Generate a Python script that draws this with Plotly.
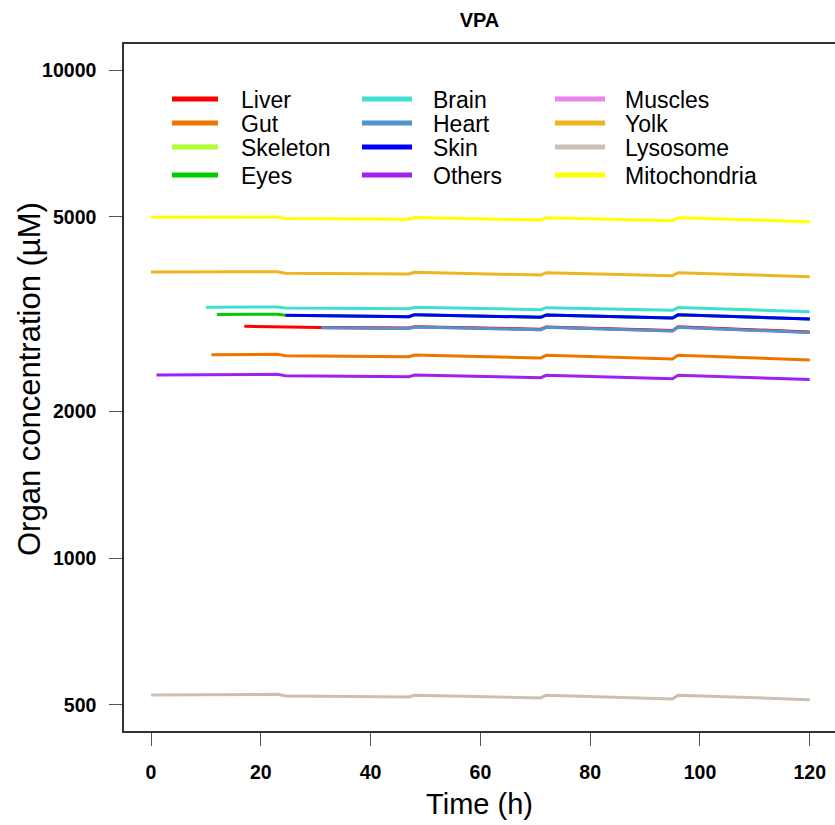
import plotly.graph_objects as go

# ---------------- data ----------------
hours = [0, 1, 10, 11, 12, 17, 23, 24.5, 31, 47, 48, 71, 72, 95, 96, 120]

mitochondria = [4991, 4991, 4993, 4994, 4994, 4996, 4997, 4965, 4960, 4944, 4986, 4928, 4981, 4911, 4981, 4888]
yolk = [3855, 3855, 3857, 3857, 3857, 3858, 3859, 3832, 3829, 3820, 3850, 3800, 3843, 3789, 3843, 3771]
lysosome = [524, 524, 524.5, 524.6, 524.7, 525, 525.5, 521.6, 521, 519.2, 523.3, 516.7, 523.3, 514.3, 523.3, 512.6]
others = [None, 2371, 2374, 2375, 2375, 2377, 2379, 2363, 2360, 2352, 2371, 2341, 2368, 2330, 2368, 2323]
brain = [None, None, 3266, 3266, 3267, 3267, 3268, 3253, 3250, 3242, 3264, 3227, 3258, 3218, 3260, 3198]
gut = [None, None, None, 2608, 2609, 2611, 2614, 2598, 2594, 2586, 2605, 2570, 2602, 2558, 2602, 2546]
eyes = [None, None, None, None, 3156, 3157, 3158, 3143, 3139, 3123, 3152, 3114, 3148, 3104, 3150, 3090]
skin = [None, None, None, None, None, None, None, 3143, 3139, 3123, 3152, 3114, 3148, 3104, 3150, 3090]
skeleton = [None, None, None, None, None, None, None, None, 3139, 3123, 3152, 3114, 3148, 3104, 3150, 3090]
liver = [None, None, None, None, None, 2985, 2979, 2971, 2968, 2961, 2979, 2943, 2975, 2924, 2977, 2906]
heart = [None, None, None, None, None, None, None, None, 2962, 2955, 2973, 2937, 2969, 2918, 2971, 2898]
muscles = [None, None, None, None, None, None, None, None, 2962, 2955, 2973, 2937, 2969, 2918, 2971, 2898]

legend_names = ["Liver", "Gut", "Skeleton", "Eyes", "Brain", "Heart",
                "Skin", "Others", "Muscles", "Yolk", "Lysosome", "Mitochondria"]
colors = {
    "Liver": "#FF0000", "Gut": "#EE7600", "Skeleton": "#ADFF2F", "Eyes": "#00CD00",
    "Brain": "#40E0D0", "Heart": "#4F94CD", "Skin": "#0000FF", "Others": "#A020F0",
    "Muscles": "#EE82EE", "Yolk": "#EEB422", "Lysosome": "#CDC0B0", "Mitochondria": "#FFFF00",
}
series = {
    "Skeleton": skeleton, "Muscles": muscles, "Liver": liver, "Gut": gut, "Eyes": eyes,
    "Brain": brain, "Heart": heart, "Skin": skin, "Others": others, "Yolk": yolk,
    "Lysosome": lysosome, "Mitochondria": mitochondria,
}

x_ticks = [0, 20, 40, 60, 80, 100, 120]
y_ticks = [500, 1000, 2000, 5000, 10000]

FONT = "Liberation Sans, Arial, sans-serif"

fig = go.Figure()
for name, vals in series.items():
    fig.add_trace(go.Scatter(
        x=hours, y=vals, mode="lines", name=name,
        line=dict(color=colors[name], width=3),
        connectgaps=False, showlegend=False,
    ))

# ---------------- legend (drawn as shapes + text) ----------------
L, T, W, H = 124, 44, 711, 687
def px(x):
    return (x - L) / W
def py(y):
    return (T + H - y) / H

row_y = [99, 123, 147, 175]
col_line = [(172, 218), (362, 412), (555, 605)]
col_text = [239, 431, 623]
shapes = []
annotations = []
for i, name in enumerate(legend_names):
    c, r = divmod(i, 4)
    x0, x1 = col_line[c]
    shapes.append(dict(type="line", xref="paper", yref="paper",
                       x0=px(x0), x1=px(x1), y0=py(row_y[r]), y1=py(row_y[r]),
                       line=dict(color=colors[name], width=5)))
    annotations.append(dict(text=name, xref="paper", yref="paper",
                            x=px(col_text[c]), y=py(row_y[r] + 1),
                            xanchor="left", yanchor="middle", showarrow=False,
                            font=dict(family=FONT, size=23, color="#000")))

# y-axis title as rotated text
annotations.append(dict(text="Organ concentration (µM)", xref="paper", yref="paper",
                        x=px(29), y=py(379), xanchor="center", yanchor="middle",
                        textangle=-90, showarrow=False,
                        font=dict(family=FONT, size=31, color="#000")))

fig.update_layout(
    width=835, height=825,
    margin=dict(l=L, r=0, t=T, b=825 - T - H, pad=0),
    paper_bgcolor="white", plot_bgcolor="white",
    font=dict(family=FONT, color="#000"),
    title=dict(text="<b>VPA</b>", x=0.5, xref="paper", xanchor="center",
               y=1 - 20 / 825, yref="container", yanchor="middle",
               font=dict(family=FONT, size=20, color="#000")),
    shapes=shapes, annotations=annotations,
    showlegend=False,
)
fig.update_xaxes(
    range=[-4.92, 124.6], tickvals=x_ticks, ticktext=[str(v) for v in x_ticks],
    ticks="outside", ticklen=13, tickwidth=1, tickcolor="#555",
    showline=True, linecolor="#333", linewidth=1.5, mirror=True,
    showgrid=False, zeroline=False, ticklabelstandoff=10,
    tickfont=dict(family=FONT, size=19.5, color="#000", weight="bold"),
    title=dict(text="Time (h)", font=dict(family=FONT, size=29, color="#000"), standoff=12),
)
fig.update_yaxes(
    type="log", range=[2.6455, 4.0533], tickvals=y_ticks, ticktext=[str(v) for v in y_ticks],
    ticks="outside", ticklen=13, tickwidth=1, tickcolor="#555",
    showline=True, linecolor="#333", linewidth=1.5, mirror=False,
    showgrid=False, zeroline=False, ticklabelstandoff=9,
    tickfont=dict(family=FONT, size=19.5, color="#000", weight="bold"),
)

fig.write_html("out.html")
